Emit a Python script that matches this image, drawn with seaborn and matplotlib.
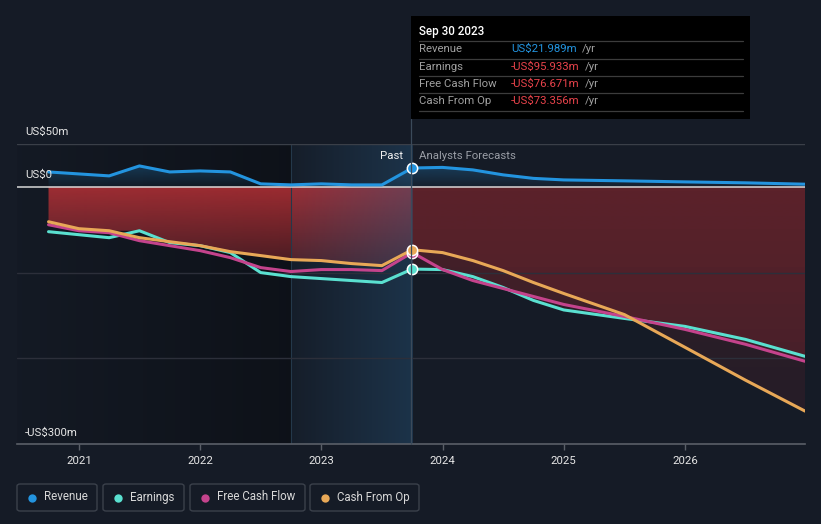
import numpy as np
import pandas as pd
import matplotlib
matplotlib.use("Agg")
import matplotlib.pyplot as plt
from matplotlib.patches import PathPatch, Rectangle, FancyBboxPatch
from matplotlib.lines import Line2D
from matplotlib.path import Path
import seaborn as sns

# ---------------- data (US$m) ----------------
past_years = [2020.75, 2021.0, 2021.25, 2021.5, 2021.75, 2022.0, 2022.25,
              2022.5, 2022.75, 2023.0, 2023.25, 2023.5, 2023.75]
revenue_past = [17.4, 15.1, 12.8, 24.4, 17.4, 18.6, 17.4, 3.5, 2.3, 3.5, 2.3, 2.3, 21.989]
earnings_past = [-52.3, -55.8, -59.3, -51.2, -65.1, -68.6, -76.7, -100.0, -104.7,
                 -107.0, -109.3, -111.6, -95.933]
fcf_past = [-44.2, -51.2, -53.5, -62.8, -68.6, -74.4, -82.6, -94.2, -98.8,
            -96.5, -96.5, -97.7, -76.671]
cfo_past = [-40.7, -48.8, -51.2, -59.3, -64.0, -68.6, -75.6, -80.2, -84.9,
            -86.0, -89.5, -91.9, -73.356]

fc_years = [2023.75, 2024.0, 2024.25, 2024.5, 2024.75, 2025.0, 2025.5, 2026.0, 2026.5, 2026.99]
revenue_fc = [21.989, 22.7, 19.8, 14.0, 9.9, 8.1, 7.0, 5.8, 4.7, 3.1]
earnings_fc = [-95.933, -96.5, -104.7, -117.4, -132.5, -143.6, -153.5, -162.8, -178.0, -197.7]
fcf_fc = [-76.671, -96.5, -109.3, -118.6, -127.9, -137.2, -151.2, -166.3, -183.7, -203.5]
cfo_fc = [-73.356, -76.7, -86.0, -97.7, -111.6, -124.4, -149.0, -187.2, -225.6, -261.6]

series_names = ["Revenue", "Earnings", "Free Cash Flow", "Cash From Op"]
series_colors = ["#2394df", "#5ae0d0", "#c4438c", "#e8a857"]
tick_years = [2021, 2022, 2023, 2024, 2025, 2026]
y_labels = {50: "US$50m", 0: "US$0", -300: "-US$300m"}

tooltip_date = "Sep 30 2023"
tooltip_values = ["US$21.989m", "-US$95.933m", "-US$76.671m", "-US$73.356m"]

# ---------------- style ----------------
BG = "#151b26"
W, H = 821, 524
sns.set_theme(style="dark")
plt.rcParams["font.family"] = ["Roboto", "DejaVu Sans"]
plt.rcParams["axes.facecolor"] = BG
plt.rcParams["figure.facecolor"] = BG

fig = plt.figure(figsize=(W / 100, H / 100), dpi=100)
fig.patch.set_facecolor(BG)


def fx(px):
    return px / W


def fy(py):
    return 1 - py / H


ax_l, ax_r, ax_t, ax_b = 17, 805, 144, 444
ax = fig.add_axes([fx(ax_l), fy(ax_b), (ax_r - ax_l) / W, (ax_b - ax_t) / H])
ax.set_facecolor(BG)
XMIN, XMAX = 2020.49, 2026.99
YMIN, YMAX = -300, 50

# long dataframe for seaborn
rows = []
for name, p, f in zip(series_names,
                      [revenue_past, earnings_past, fcf_past, cfo_past],
                      [revenue_fc, earnings_fc, fcf_fc, cfo_fc]):
    for yr, v in zip(past_years, p):
        rows.append((name, yr, v))
    for yr, v in zip(fc_years[1:], f[1:]):
        rows.append((name, yr, v))
df = pd.DataFrame(rows, columns=["series", "year", "value"])


def grad_image(ax, x0, x1, y0, y1, rgb, a0, a1, z, horizontal=False, clip=None):
    n = 256
    a = np.linspace(a0, a1, n)
    if horizontal:
        img = np.zeros((1, n, 4))
        img[0, :, :3] = rgb
        img[0, :, 3] = a
    else:
        img = np.zeros((n, 1, 4))
        img[:, 0, :3] = rgb
        img[:, 0, 3] = a
    im = ax.imshow(img, extent=[x0, x1, y0, y1], origin="lower", aspect="auto",
                   zorder=z, interpolation="bilinear")
    if clip is not None:
        patch = PathPatch(clip, transform=ax.transData, facecolor="none", edgecolor="none")
        im.set_clip_path(patch)
    return im


def fill_path(ax, x, y1, y2):
    poly = ax.fill_between(x, y1, y2, facecolor="none", edgecolor="none")
    path = Path.make_compound_path(*poly.get_paths())
    poly.remove()
    return path


def rgb(h):
    return np.array(matplotlib.colors.to_rgb(h))


# past darker region
grad_image(ax, XMIN, 2022.75, YMIN, YMAX, np.array([0, 0, 0]), 0.05, 0.35, 0.3, horizontal=True)

# revenue blue fill
rev_all_x = past_years + fc_years[1:]
rev_all_y = revenue_past + revenue_fc[1:]
p = fill_path(ax, rev_all_x, rev_all_y, [0] * len(rev_all_x))
grad_image(ax, XMIN, XMAX, 0, 25, rgb("#2394df"), 0.04, 0.28, 0.8, clip=p)

# past red fill to upper envelope
env = np.max(np.array([earnings_past, fcf_past, cfo_past]), axis=0)
p = fill_path(ax, past_years, [0] * len(past_years), env)
grad_image(ax, XMIN, XMAX, -130, 0, np.array([0.78, 0.2, 0.22]), 0.12, 0.78, 0.9, clip=p)

# forecast red fills (one per negative series)
for ser in [earnings_fc, fcf_fc, cfo_fc]:
    p = fill_path(ax, fc_years, [0] * len(fc_years), ser)
    grad_image(ax, XMIN, XMAX, YMIN, 0, np.array([0.75, 0.18, 0.2]), 0.09, 0.17, 1.0, clip=p)

# highlight (last twelve months)
grad_image(ax, 2022.75, 2023.75, YMIN, YMAX, np.array([0.16, 0.36, 0.52]), 0.04, 0.38, 1.5,
           horizontal=True)
ax.axvline(2022.75, color="#24384a", lw=0.8, zorder=1.6)

# gridlines
ax.axhline(50, color="#3a3f48", lw=1, zorder=1.7)
for v in [-100, -200]:
    ax.axhline(v, color="#2c2f3a", lw=1, zorder=1.7)
ax.axhline(0, color="#d8d8d8", lw=1.1, zorder=2)

# lines
sns.lineplot(data=df, x="year", y="value", hue="series", hue_order=series_names,
             palette=series_colors, estimator=None, sort=True, legend=False,
             lw=2.2, ax=ax, zorder=3)
for ln in ax.lines:
    ln.set_solid_joinstyle("round")
    ln.set_solid_capstyle("round")

# markers at the last reported point
last_vals = [revenue_past[-1], earnings_past[-1], fcf_past[-1], cfo_past[-1]]
for order, (v, c) in enumerate(zip(last_vals, series_colors)):
    ax.scatter([past_years[-1]], [v], s=55, color=c, edgecolor="white", linewidth=1.1,
               zorder=4 + order)

ax.set_xlim(XMIN, XMAX)
ax.set_ylim(YMIN, YMAX)
ax.set_xlabel("")
ax.set_ylabel("")
ax.set_yticks([])
ax.set_xticks(tick_years)
ax.set_xticklabels([str(t) for t in tick_years], color="#e6e6e6", fontsize=8.2)
ax.tick_params(axis="x", length=4, width=1, color="#5a5f68", pad=5, bottom=True)
ax.grid(False)
for s in ["top", "right", "left"]:
    ax.spines[s].set_visible(False)
ax.spines["bottom"].set_color("#5a5f68")
ax.spines["bottom"].set_linewidth(1.2)

# y labels
for v, lab in y_labels.items():
    py = 187 - v * 0.86 - 12
    fig.text(fx(25), fy(py), lab, color="#e6e6e6", fontsize=8.2, ha="left", va="center")

# Past / Analysts Forecasts
fig.text(fx(403), fy(156), "Past", color="#f0f0f0", fontsize=8.2, ha="right", va="center")
fig.text(fx(419), fy(156), "Analysts Forecasts", color="#9a9ea6", fontsize=8.2, ha="left",
         va="center")

# divider line through tooltip
fig.add_artist(Line2D([fx(411), fx(411)], [fy(444), fy(119)], color="#3b4a5a", lw=0.9))

# tooltip box
fig.add_artist(Rectangle((fx(411), fy(119)), (750 - 411) / W, (119 - 16) / H,
                         facecolor="#000000", edgecolor="none"))
fig.text(fx(419), fy(31), tooltip_date, color="#ffffff", fontsize=8.4, ha="left", va="center",
         fontweight="medium")
for sy in [41, 58.5, 76, 93, 111]:
    fig.add_artist(Line2D([fx(419), fx(743)], [fy(sy), fy(sy)], color="#3c3c3c", lw=0.9))
row_y = [49, 67, 84, 101]
val_colors = ["#2394df", "#e8434b", "#e8434b", "#e8434b"]
renderer = fig.canvas.get_renderer()
for name, val, vc, ry in zip(series_names, tooltip_values, val_colors, row_y):
    fig.text(fx(419), fy(ry), name, color="#a0a0a0", fontsize=8.2, ha="left", va="center")
    t = fig.text(fx(511), fy(ry), val, color=vc, fontsize=8.2, ha="left", va="center")
    bb = t.get_window_extent(renderer=renderer)
    fig.text(bb.x1 / W + fx(5), fy(ry), "/yr", color="#a0a0a0", fontsize=8.2, ha="left",
             va="center")

# legend boxes
boxes = [(17, 97), (103, 184), (190, 305), (310, 419)]
for (bl, br), name, c in zip(boxes, series_names, series_colors):
    fig.add_artist(FancyBboxPatch((fx(bl), fy(511)), (br - bl) / W, 27 / H,
                                  boxstyle="round,pad=0,rounding_size=0.004",
                                  facecolor="none", edgecolor="#3b414b", lw=1))
    fig.add_artist(Line2D([fx(bl + 14.5)], [fy(497.5)], marker="o", markersize=6,
                          markerfacecolor=c, markeredgecolor="none", linestyle="none"))
    fig.text(fx(bl + 27), fy(497), name, color="#d8d8d8", fontsize=8.3, ha="left", va="center")

fig.savefig("out.png", dpi=100, facecolor=BG)
